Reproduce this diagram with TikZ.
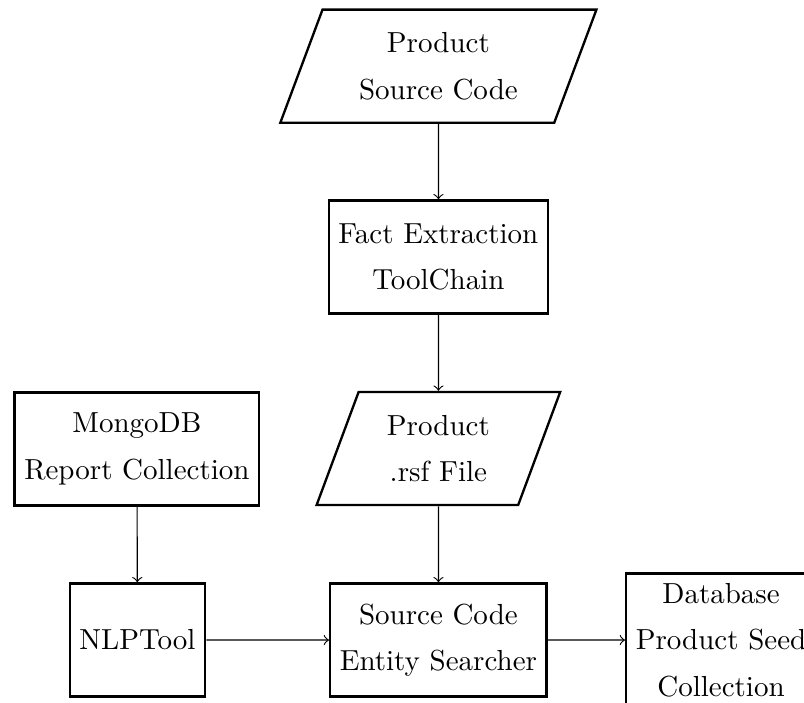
\documentclass[tikz,border=0pt]{standalone}
\usepackage{tikz}
\usetikzlibrary{shapes.geometric}

\begin{document}
\begin{tikzpicture}[xscale=0.35,yscale=-0.35,
    box/.style={draw,thick,align=center,minimum height=39pt},
    io/.style={draw,thick,align=center,trapezium,trapezium left angle=64,
      trapezium right angle=116,trapezium stretches body,minimum height=39pt}]
  \useasboundingbox (0,0) rectangle (27.84,24.34);

  \node [io,minimum width=109pt] (src) at (15.18,2.29) {Product\\[4pt]Source Code};
  \node [box] (fact) at (15.18,8.90) {Fact Extraction\\[4pt]ToolChain};
  \node [io,minimum width=84pt] (rsf) at (15.18,15.53) {Product\\[4pt].rsf File};
  \node [box] (mongo) at (4.74,15.55) {MongoDB\\[4pt]Report Collection};
  \node [box] (nlp) at (4.76,22.16) {NLPTool};
  \node [box] (search) at (15.18,22.16) {Source Code\\[4pt]Entity Searcher};
  \node [box,anchor=west] (db) at (21.64,22.16) {Database\\[4pt]Product Seed\\[4pt]Collection};

  \draw [->] (src) -- (fact);
  \draw [->] (fact) -- (rsf);
  \draw [->] (rsf) -- (search);
  \draw [->] (mongo) -- (nlp);
  \draw [->] (nlp) -- (search);
  \draw [->] (search) -- (db);
\end{tikzpicture}
\end{document}
